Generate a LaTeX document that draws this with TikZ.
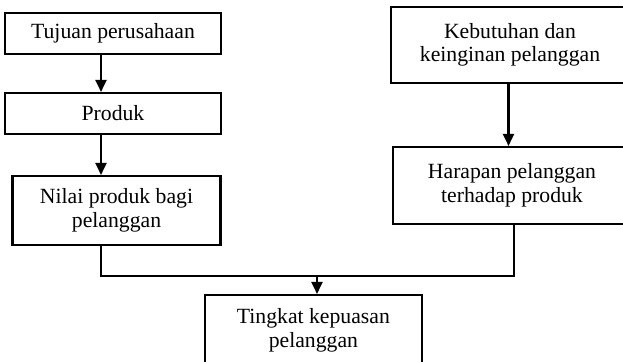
\documentclass[tikz,border=0pt]{standalone}
\usepackage{fontspec}
\setmainfont{Liberation Serif}
\usetikzlibrary{arrows.meta}
\begin{document}
\begin{tikzpicture}[x=1pt,y=-1pt,
  box/.style={draw,line width=2.1pt,align=center,inner sep=0pt,
    font=\fontsize{21.7}{23.5}\selectfont},
  link/.style={line width=2.1pt},
  arr/.style={link,-{Triangle[length=12pt,width=11pt]}}]
\fill[white] (0,0) rectangle (623,361);
\clip (0,0) rectangle (623,361);
% left column
\node[box,minimum width=216pt,minimum height=41pt] (tujuan) at (113,33.5) {Tujuan perusahaan};
\node[box,minimum width=216pt,minimum height=41pt] (produk) at (113,113.5) {Produk};
\node[box,minimum width=208pt,minimum height=69pt] (nilai) at (116.5,210.5) {Nilai produk bagi\\pelanggan};
% right column, running past the right edge
\node[box,minimum width=238pt,minimum height=76pt] (kebutuhan) at (510,45) {Kebutuhan dan\\keinginan pelanggan};
\node[box,minimum width=238pt,minimum height=77pt] (harapan) at (512,185.5) {Harapan pelanggan\\terhadap produk};
% result, running past the bottom edge
\node[box,minimum width=216.7pt,minimum height=71pt] (tingkat) at (313.4,330.5) {Tingkat kepuasan\\pelanggan};
% connector points
\coordinate (t1) at ([xshift=-12pt]tujuan.south);
\coordinate (p1) at ([xshift=-12pt]produk.south);
\coordinate (k1) at ([xshift=-1.5pt]kebutuhan.south);
\coordinate (nb) at ([xshift=-15.5pt]nilai.south);
\coordinate (hb) at ([xshift=2pt]harapan.south);
\coordinate (j) at (317,276);
% arrows
\draw[arr] (t1) -- (t1 |- produk.north);
\draw[arr] (p1) -- (p1 |- nilai.north);
\draw[arr] (k1) -- (k1 |- harapan.north);
\draw[link] (nb) |- (j) -| (hb);
\draw[arr] (j) -- (j |- tingkat.north);
\end{tikzpicture}
\end{document}
